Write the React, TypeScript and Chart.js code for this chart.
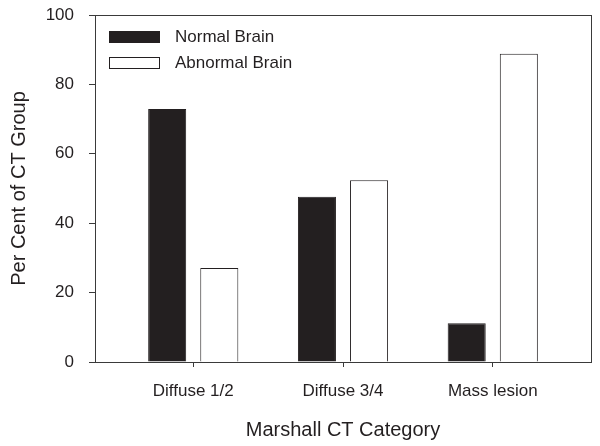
import React, { useEffect, useRef } from "react";
import { Chart, registerables } from "chart.js";

Chart.register(...registerables);

const categories = ["Diffuse 1/2", "Diffuse 3/4", "Mass lesion"];
const seriesNames = ["Normal Brain", "Abnormal Brain"];
const normalBrain = [72.9, 47.6, 11.2];
const abnormalBrain = [27.1, 52.4, 88.8];
const yTicks = [0, 20, 40, 60, 80, 100];

const FONT = "'Liberation Sans', Arial, sans-serif";
const TEXT = "#231f20";
const LINE = "#3a3a3a";

const framePlugin = {
  id: "frameAndLegend",
  afterDraw(chart: any) {
    const { ctx, chartArea } = chart;
    ctx.save();
    ctx.strokeStyle = LINE;
    ctx.lineWidth = 1;
    ctx.strokeRect(
      Math.round(chartArea.left) + 0.5,
      Math.round(chartArea.top) + 0.5,
      Math.round(chartArea.right - chartArea.left),
      Math.round(chartArea.bottom - chartArea.top)
    );
    // legend inside chart area
    const x0 = chartArea.left + 14;
    const rows = [chartArea.top + 16, chartArea.top + 42];
    chart.data.datasets.forEach((ds: any, i: number) => {
      const y = rows[i];
      ctx.fillStyle = ds.backgroundColor;
      ctx.fillRect(x0, y, 50, 11);
      ctx.strokeStyle = "#231f20";
      ctx.lineWidth = 1;
      ctx.strokeRect(x0 + 0.5, y + 0.5, 50, 11);
      ctx.fillStyle = TEXT;
      ctx.font = `17px ${FONT}`;
      ctx.textBaseline = "middle";
      ctx.textAlign = "left";
      ctx.fillText(ds.label, x0 + 66, y + 6);
    });
    ctx.restore();
  },
};

export default function App() {
  const ref = useRef<HTMLCanvasElement>(null);

  useEffect(() => {
    if (!ref.current) return;
    const chart = new Chart(ref.current, {
      type: "bar",
      data: {
        datasets: [
          {
            label: seriesNames[0],
            data: categories.map((_, i) => ({ x: i + 1, y: normalBrain[i] })),
            backgroundColor: "#231f20",
            borderColor: "#231f20",
            borderWidth: 1,
            categoryPercentage: 0.696,
            barPercentage: 0.73,
          },
          {
            label: seriesNames[1],
            data: categories.map((_, i) => ({ x: i + 1, y: abnormalBrain[i] })),
            backgroundColor: "#ffffff",
            borderColor: "#231f20",
            borderWidth: 1,
            categoryPercentage: 0.696,
            barPercentage: 0.73,
          },
        ] as any,
      },
      options: {
        animation: false,
        responsive: false,
        maintainAspectRatio: false,
        layout: { padding: { top: 15, right: 9, left: 0, bottom: 0 } },
        plugins: {
          legend: { display: false },
          tooltip: { enabled: false },
        },
        scales: {
          x: {
            type: "linear",
            min: 0.344,
            max: 3.656,
            offset: false,
            afterBuildTicks: (scale: any) => {
              scale.ticks = categories.map((_, i) => ({ value: i + 1 }));
            },
            afterFit: (scale: any) => {
              scale.height = 84;
              scale.paddingLeft = 0;
              scale.paddingRight = 0;
            },
            grid: {
              offset: false,
              display: true,
              drawOnChartArea: false,
              drawTicks: true,
              tickLength: 5,
              color: LINE,
            },
            border: { display: true, color: LINE },
            ticks: {
              autoSkip: false,
              maxRotation: 0,
              padding: 14,
              color: TEXT,
              font: { family: FONT, size: 17 },
              callback: (v: any) => categories[Math.round(Number(v)) - 1] ?? "",
            },
            title: {
              display: true,
              text: "Marshall CT Category",
              color: TEXT,
              font: { family: FONT, size: 20 },
              padding: { top: 4, bottom: 4 },
            },
          },
          y: {
            min: 0,
            max: 100,
            afterBuildTicks: (scale: any) => {
              scale.ticks = yTicks.map((v) => ({ value: v }));
            },
            afterFit: (scale: any) => {
              scale.width = 95;
              scale.paddingTop = 0;
              scale.paddingBottom = 0;
            },
            grid: {
              display: true,
              drawOnChartArea: false,
              drawTicks: true,
              tickLength: 6,
              color: LINE,
            },
            border: { display: true, color: LINE },
            ticks: {
              padding: 15,
              color: TEXT,
              font: { family: FONT, size: 17 },
            },
            title: {
              display: true,
              text: "Per Cent of CT Group",
              color: TEXT,
              font: { family: FONT, size: 20 },
              padding: { top: 7, bottom: 4 },
            },
          },
        },
      },
      plugins: [framePlugin],
    });
    return () => chart.destroy();
  }, []);

  return (
    <>
      <style>{`body{margin:0;}`}</style>
      <div style={{ width: 600, height: 446 }}>
        <canvas ref={ref} width={600} height={446} style={{ display: "block" }} />
      </div>
    </>
  );
}
